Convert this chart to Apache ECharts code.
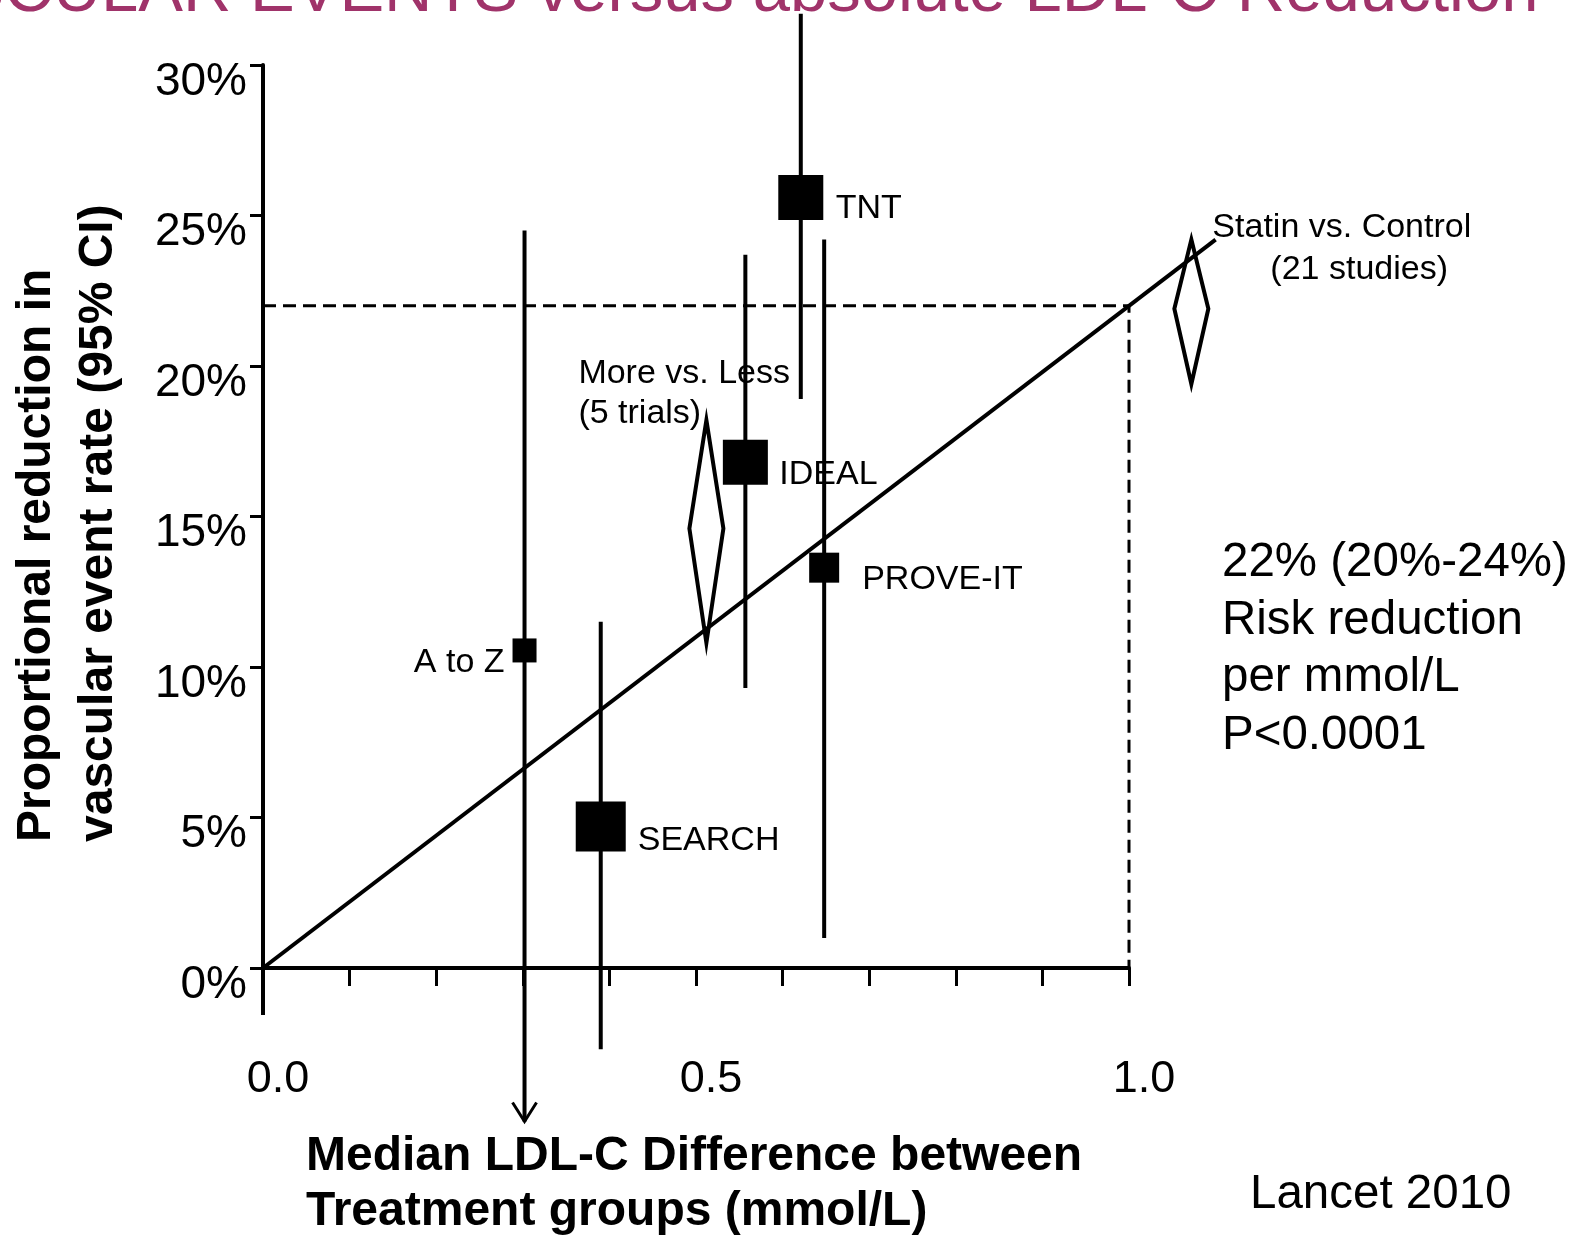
<!DOCTYPE html>
<html>
<head>
<meta charset="utf-8">
<script src="https://cdn.jsdelivr.net/npm/echarts@6/dist/echarts.min.js"></script>
<style>
html,body{margin:0;padding:0;background:#fff;}
#c{width:1581px;height:1236px;}
</style>
</head>
<body>
<div id="c"></div>
<script>
// ---------------- DATA ----------------
const studies        = ['A to Z', 'SEARCH', 'IDEAL', 'TNT', 'PROVE-IT'];
const ldlDiff        = [0.302, 0.390, 0.557, 0.621, 0.648];   // mmol/L
const riskReduction  = [10.55, 4.7, 16.8, 25.6, 13.3];        // %
const ciLower        = [-5.1, -2.7, 9.3, 18.9, 1.0];          // %
const ciUpper        = [24.5, 11.5, 23.7, 31.7, 24.2];        // %
const lowerTruncated = [true, false, false, false, false];

const pooledNames = [['More vs. Less', '(5 trials)'], ['Statin vs. Control', '(21 studies)']];
const pooledLdl   = [0.512, 1.072];
const pooledEst   = [14.6, 21.9];
const pooledLower = [10.8, 19.4];
const pooledUpper = [18.2, 24.2];

const fitX = [0, 1.1];
const fitY = [0, 24.2];
const refX = [0, 1, 1];
const refY = [22, 22, 0];

const xTickLabels = ['0.0', '0.5', '1.0'];
const yTickLabels = ['0%', '5%', '10%', '15%', '20%', '25%', '30%'];

const titleText = 'MAJOR VASCULAR EVENTS versus absolute LDL-C Reduction';
const titleHiddenPrefix = 'MAJOR VASCULAR ';
const annotation = ['22% (20%-24%)', 'Risk reduction', 'per mmol/L', 'P<0.0001'];
const sourceNote = 'Lancet 2010';
const xTitle = ['Median LDL-C Difference between', 'Treatment groups (mmol/L)'];
const yTitle = ['Proportional reduction in', 'vascular event rate (95% CI)'];

// ---------------- STYLE ----------------
const FF = '"Liberation Sans", Arial, Helvetica, sans-serif';
const boxSizes = [24, 50, 45, 45, 30];
const studyLabelPos = [
  {dx: -20, dy: 12, align: 'right'},
  {dx: 37, dy: 14, align: 'left'},
  {dx: 34, dy: 12, align: 'left'},
  {dx: 35, dy: 11, align: 'left'},
  {dx: 38, dy: 12, align: 'left'}
];
const pooledLabelPos = [
  [{dx: -128, dy: -155}, {dx: -128, dy: -115}],
  [{dx: 21, dy: -81}, {dx: 79, dy: -39}]
];

const chart = echarts.init(document.getElementById('c'), null, {renderer: 'canvas'});

const studyData = studies.map((s, i) => [ldlDiff[i], riskReduction[i], ciLower[i], ciUpper[i]]);
const pooledData = pooledLdl.map((x, i) => [x, pooledEst[i], pooledLower[i], pooledUpper[i]]);
const fitData = fitX.map((x, i) => [x, fitY[i]]);
const refData = refX.map((x, i) => [x, refY[i]]);

function measure(text, font) {
  const c = document.createElement('canvas').getContext('2d');
  c.font = font;
  return c.measureText(text).width;
}
const titleFont = '67px ' + FF;
const titleX = 250 - measure(titleHiddenPrefix, titleFont);

const option = {
  backgroundColor: '#fff',
  animation: false,
  grid: {left: 263, right: 452, top: 65, bottom: 268, containLabel: false},
  xAxis: {
    type: 'value', min: 0, max: 1, interval: 0.1,
    splitLine: {show: false},
    axisLine: {show: true, lineStyle: {color: '#000', width: 4}},
    axisTick: {show: true, length: 18, lineStyle: {color: '#000', width: 3}},
    axisLabel: {
      show: true, margin: 89, color: '#000', fontSize: 45, fontFamily: FF,
      padding: [0, 0, 0, 30],
      showMinLabel: true, showMaxLabel: true,
      formatter: v => {
        const k = Math.round(v * 10);
        return k % 5 === 0 ? xTickLabels[k / 5] : '';
      }
    }
  },
  yAxis: {
    type: 'value', min: 0, max: 30, interval: 5,
    splitLine: {show: false},
    axisLine: {show: true, lineStyle: {color: '#000', width: 4}},
    axisTick: {show: true, length: 13, lineStyle: {color: '#000', width: 3}},
    axisLabel: {
      show: true, margin: 16, color: '#000', fontSize: 46, fontFamily: FF,
      verticalAlign: 'top', lineHeight: 34,
      formatter: v => yTickLabels[Math.round(v / 5)]
    }
  },
  series: [
    {
      type: 'line', name: 'ref', data: refData, symbol: 'none', clip: false, z: 1,
      lineStyle: {color: '#000', width: 3, type: [13, 7]}
    },
    {
      type: 'custom', name: 'axisStub', data: [[0, 0]], clip: false, z: 1,
      renderItem: (params, api) => {
        const p = api.coord([api.value(0), api.value(1)]);
        return {type: 'line', shape: {x1: p[0], y1: p[1], x2: p[0], y2: p[1] + 47},
                style: {stroke: '#000', lineWidth: 4}};
      }
    },
    {
      type: 'custom', name: 'studies', data: studyData, clip: false, z: 2,
      encode: {x: 0, y: 1},
      renderItem: (params, api) => {
        const i = params.dataIndex;
        const x = api.value(0);
        const pE = api.coord([x, api.value(1)]);
        const pL = api.coord([x, api.value(2)]);
        const pH = api.coord([x, api.value(3)]);
        const s = boxSizes[i];
        const lp = studyLabelPos[i];
        const ch = [
          {type: 'line', shape: {x1: pL[0], y1: pL[1], x2: pH[0], y2: pH[1]},
           style: {stroke: '#000', lineWidth: 4}},
          {type: 'rect', shape: {x: pE[0] - s / 2, y: pE[1] - s / 2, width: s, height: s},
           style: {fill: '#000'}},
          {type: 'text', x: pE[0] + lp.dx, y: pE[1] + lp.dy,
           style: {text: studies[i], fontSize: 34, fontFamily: FF, fill: '#000',
                   align: lp.align, verticalAlign: 'middle'}}
        ];
        if (lowerTruncated[i]) {
          ch.push({type: 'polyline',
            shape: {points: [[pL[0] - 12, pL[1] - 19], [pL[0], pL[1]], [pL[0] + 12, pL[1] - 19]]},
            style: {stroke: '#000', lineWidth: 3, fill: null}});
        }
        return {type: 'group', children: ch};
      }
    },
    {
      type: 'custom', name: 'pooled', data: pooledData, clip: false, z: 3,
      encode: {x: 0, y: 1},
      renderItem: (params, api) => {
        const i = params.dataIndex;
        const x = api.value(0);
        const pC = api.coord([x, api.value(1)]);
        const pB = api.coord([x, api.value(2)]);
        const pT = api.coord([x, api.value(3)]);
        const hw = 17;
        const ch = [
          {type: 'polygon',
           shape: {points: [[pT[0], pT[1]], [pC[0] + hw, pC[1]], [pB[0], pB[1]], [pC[0] - hw, pC[1]]]},
           style: {stroke: '#000', lineWidth: 4, fill: null, lineJoin: 'miter'}}
        ];
        pooledNames[i].forEach((t, k) => {
          const lp = pooledLabelPos[i][k];
          ch.push({type: 'text', x: pC[0] + lp.dx, y: pC[1] + lp.dy,
            style: {text: t, fontSize: 34, fontFamily: FF, fill: '#000', align: 'left', verticalAlign: 'middle'}});
        });
        return {type: 'group', children: ch};
      }
    },
    {
      type: 'custom', name: 'fit', data: [fitData[1]], clip: false, z: 4,
      renderItem: (params, api) => {
        const p0 = api.coord(fitData[0]);
        const p1 = api.coord([api.value(0), api.value(1)]);
        return {type: 'line', shape: {x1: p0[0], y1: p0[1], x2: p1[0], y2: p1[1]},
                style: {stroke: '#000', lineWidth: 4}};
      }
    }
  ],
  graphic: [
    {type: 'text', x: titleX, y: -7,
     style: {text: titleText, font: titleFont, fill: '#A0336A', align: 'left', verticalAlign: 'middle'}},
    ...annotation.map((t, k) => ({type: 'text', x: 1222, y: 563 + k * 57.5,
     style: {text: t, fontSize: 47.5, fontFamily: FF, fill: '#000', align: 'left', verticalAlign: 'middle'}})),
    {type: 'text', x: 1250, y: 1195,
     style: {text: sourceNote, fontSize: 47.5, fontFamily: FF, fill: '#000', align: 'left', verticalAlign: 'middle'}},
    ...xTitle.map((t, k) => ({type: 'text', x: 306, y: 1157 + k * 55,
     style: {text: t, fontSize: 48, fontWeight: 'bold', fontFamily: FF, fill: '#000', align: 'left', verticalAlign: 'middle'}})),
    ...yTitle.map((t, k) => ({type: 'text', x: 37 + k * 62, y: 842, rotation: Math.PI / 2,
     style: {text: t, fontSize: 48, fontWeight: 'bold', fontFamily: FF, fill: '#000', align: 'left', verticalAlign: 'middle'}}))
  ]
};
chart.setOption(option);
</script>
</body>
</html>
